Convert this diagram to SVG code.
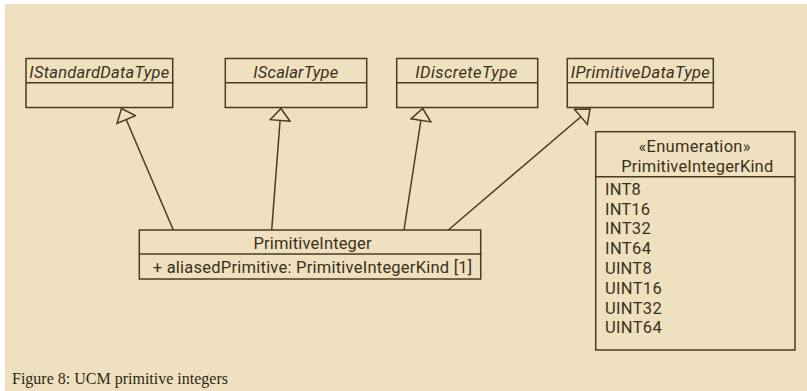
<svg xmlns="http://www.w3.org/2000/svg" width="807" height="391" viewBox="0 0 807 391">
<style>
.box{fill:none;stroke:#4a3b1e;stroke-width:1.5}
.ln{stroke:#4a3b1e;stroke-width:1.5;fill:none}
.t{font-family:Roboto,"Liberation Sans",sans-serif;font-size:16.5px;fill:#3b301a}
.it{font-style:italic}
.c{text-anchor:middle}
.cap{font-family:"Liberation Serif",serif;font-size:16px;fill:#2e2716}
</style>
<defs>
<marker id="gen" viewBox="0 0 14 22" refX="13" refY="11" markerWidth="14" markerHeight="22" markerUnits="userSpaceOnUse" orient="auto">
<path d="M1,1 L13,11 L1,21 Z" fill="#efe1c0" stroke="#4a3b1e" stroke-width="1.5" stroke-linejoin="miter"/>
</marker>
</defs>
<rect x="0" y="0" width="807" height="391" fill="#ffffff"/>
<rect x="5" y="4" width="802" height="387" fill="#efe1c0"/>
<g id="IStandardDataType">
<rect class="box" x="26" y="58.5" width="146.7" height="49"/>
<line class="ln" x1="26" y1="82.7" x2="173.7" y2="82.7"/>
<text class="t it c" x="99.3" y="77.5" textLength="140" lengthAdjust="spacing">IStandardDataType</text>
</g>
<g id="IScalarType">
<rect class="box" x="225.3" y="58.5" width="141.4" height="49"/>
<line class="ln" x1="225.3" y1="82.7" x2="366.7" y2="82.7"/>
<text class="t it c" x="295.8" y="77.5" textLength="85" lengthAdjust="spacing">IScalarType</text>
</g>
<g id="IDiscreteType">
<rect class="box" x="396.7" y="58.5" width="141" height="49"/>
<line class="ln" x1="396.7" y1="82.7" x2="537.7" y2="82.7"/>
<text class="t it c" x="466.2" y="77.5" textLength="102" lengthAdjust="spacing">IDiscreteType</text>
</g>
<g id="IPrimitiveDataType">
<rect class="box" x="567.3" y="58.5" width="146" height="49"/>
<line class="ln" x1="567.3" y1="82.7" x2="714.3" y2="82.7"/>
<text class="t it c" x="640.3" y="77.5" textLength="139" lengthAdjust="spacing">IPrimitiveDataType</text>
</g>
<g id="PrimitiveInteger">
<rect class="box" x="139.3" y="230" width="341.4" height="49"/>
<line class="ln" x1="139.3" y1="254" x2="481.7" y2="254"/>
<text class="t c" x="312.5" y="249" textLength="118" lengthAdjust="spacing">PrimitiveInteger</text>
<text class="t" x="152.7" y="273.3" textLength="319.5" lengthAdjust="spacing">+ aliasedPrimitive: PrimitiveIntegerKind [1]</text>
</g>
<g id="PrimitiveIntegerKind">
<rect class="box" x="595.7" y="131.7" width="199.3" height="218.3"/>
<line class="ln" x1="595.7" y1="176.7" x2="795" y2="176.7"/>
<text class="t c" x="694.5" y="151.7" textLength="112" lengthAdjust="spacing">«Enumeration»</text>
<text class="t c" x="697.2" y="172" textLength="152" lengthAdjust="spacing">PrimitiveIntegerKind</text>
<text class="t" x="605" y="195" textLength="35.7" lengthAdjust="spacing">INT8</text>
<text class="t" x="605" y="214.5" textLength="45" lengthAdjust="spacing">INT16</text>
<text class="t" x="605" y="234.2" textLength="45.7" lengthAdjust="spacing">INT32</text>
<text class="t" x="605" y="253.8" textLength="46" lengthAdjust="spacing">INT64</text>
<text class="t" x="605" y="274" textLength="46.7" lengthAdjust="spacing">UINT8</text>
<text class="t" x="605" y="294" textLength="56.7" lengthAdjust="spacing">UINT16</text>
<text class="t" x="605" y="313.6" textLength="56.7" lengthAdjust="spacing">UINT32</text>
<text class="t" x="605" y="333.2" textLength="56.7" lengthAdjust="spacing">UINT64</text>
</g>
<g id="connectors">
<line class="ln" x1="173.3" y1="230" x2="121.5" y2="108.5" marker-end="url(#gen)"/>
<line class="ln" x1="271.7" y1="230" x2="281" y2="108.5" marker-end="url(#gen)"/>
<line class="ln" x1="404" y1="230" x2="422.7" y2="108.5" marker-end="url(#gen)"/>
<line class="ln" x1="448.3" y1="230" x2="590" y2="109" marker-end="url(#gen)"/>
</g>
<text class="cap" x="12" y="384">Figure 8: UCM primitive integers</text>
</svg>
